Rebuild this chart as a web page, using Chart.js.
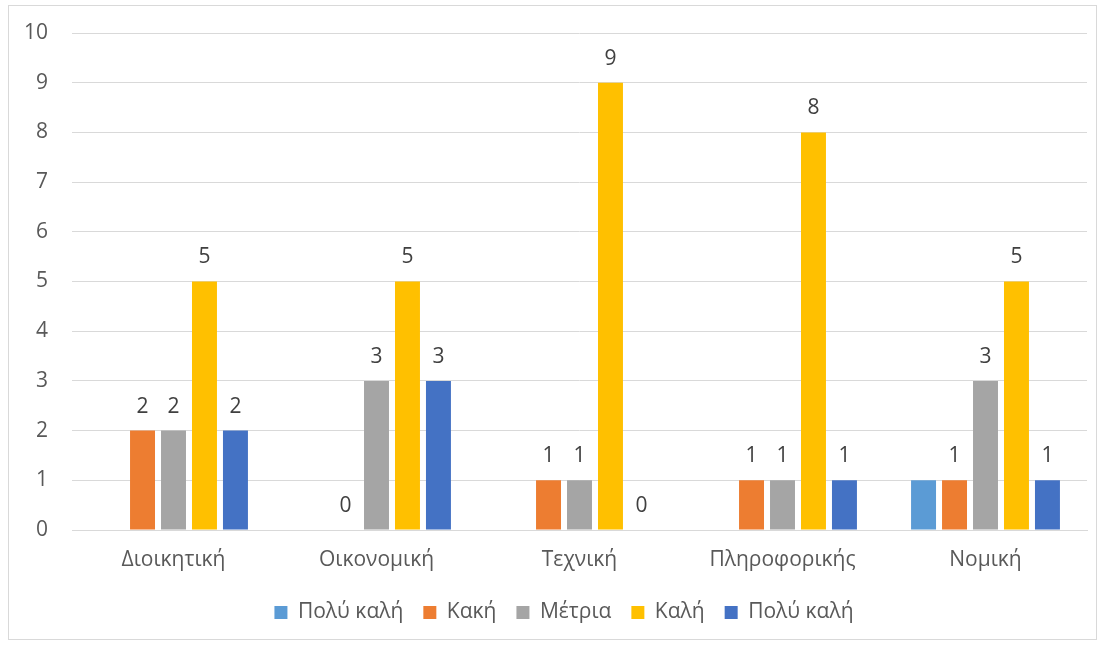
<!DOCTYPE html>
<html>
<head>
<meta charset="utf-8">
<script src="https://cdn.jsdelivr.net/npm/chart.js@4"></script>
<style>
    html, body { margin: 0; padding: 0; background: #fff; }
    #frame {
        position: absolute; left: 8px; top: 5px;
        width: 1089px; height: 635px;
        border: 1px solid #d9d9d9; box-sizing: border-box;
    }
    canvas { display: block; }
</style>
</head>
<body>
<div id="frame"><canvas id="ratingChart"></canvas></div>
<script>
    // ---- Data ----
    const categories = ['Διοικητική', 'Οικονομική', 'Τεχνική', 'Πληροφορικής', 'Νομική'];
    const seriesNames = ['Πολύ καλή', 'Κακή', 'Μέτρια', 'Καλή', 'Πολύ καλή'];
    const veryGoodA = [0, 0, 0, 0, 1];
    const bad = [2, 0, 1, 1, 1];
    const average = [2, 3, 1, 1, 3];
    const good = [5, 5, 9, 8, 5];
    const veryGoodB = [2, 3, 0, 1, 1];
    const yTicks = [0, 1, 2, 3, 4, 5, 6, 7, 8, 9, 10];

    const colors = ['#5b9bd5', '#ed7d31', '#a5a5a5', '#ffc000', '#4472c4'];
    const showLabels = [false, true, true, true, true];
    const FONT = "'Open Sans', 'Noto Sans', sans-serif";
    const FONT_SIZE = 21;
    const TEXT = '#595959';

    // value labels above the bars
    const valueLabels = {
        id: 'valueLabels',
        afterDatasetsDraw(chart) {
            const ctx = chart.ctx;
            ctx.save();
            ctx.font = FONT_SIZE + 'px ' + FONT;
            ctx.fillStyle = '#404040';
            ctx.textAlign = 'center';
            ctx.textBaseline = 'middle';
            chart.data.datasets.forEach((ds, i) => {
                if (!showLabels[i]) return;
                chart.getDatasetMeta(i).data.forEach((bar, j) => {
                    const v = ds.data[j];
                    if (v === null || v === undefined) return;
                    ctx.fillText(String(v), bar.x, bar.y - 24);
                });
            });
            ctx.restore();
        }
    };

    // nudge the legend a bit to the right of the canvas centre
    const legendShift = {
        id: 'legendShift',
        afterLayout(chart) {
            if (!chart.legend) return;
            chart.legend.left += 16;
            chart.legend.right += 16;
        }
    };

    const allSeries = [veryGoodA, bad, average, good, veryGoodB];
    const datasets = allSeries.map((data, i) => ({
        label: seriesNames[i],
        data: data,
        backgroundColor: colors[i],
        borderWidth: 0,
        barPercentage: 0.806,
        categoryPercentage: 0.763
    }));

    const canvas = document.getElementById('ratingChart');
    canvas.width = 1087;
    canvas.height = 633;

    new Chart(canvas.getContext('2d'), {
        type: 'bar',
        data: { labels: categories, datasets: datasets },
        plugins: [valueLabels, legendShift],
        options: {
            responsive: false,
            animation: false,
            layout: { padding: { left: 0, right: 9, top: 27, bottom: 6 } },
            plugins: {
                tooltip: { enabled: false },
                legend: {
                    position: 'bottom',
                    labels: {
                        boxWidth: 13, boxHeight: 13,
                        padding: 20,
                        color: TEXT,
                        font: { family: FONT, size: FONT_SIZE }
                    }
                }
            },
            scales: {
                x: {
                    grid: { display: false },
                    border: { color: '#d9d9d9' },
                    ticks: { color: TEXT, font: { family: FONT, size: FONT_SIZE }, padding: 9 },
                    afterFit: (axis) => { axis.height = 52; }
                },
                y: {
                    min: yTicks[0],
                    max: yTicks[yTicks.length - 1],
                    afterBuildTicks: (axis) => { axis.ticks = yTicks.map(v => ({ value: v })); },
                    grid: { color: '#d9d9d9', drawTicks: false },
                    border: { display: false },
                    ticks: { color: TEXT, font: { family: FONT, size: FONT_SIZE }, padding: 24 },
                    afterFit: (axis) => {
                        axis.width = 63;
                        axis.paddingTop = 12;
                        axis.paddingBottom = 12;
                    }
                }
            }
        }
    });
</script>
</body>
</html>
